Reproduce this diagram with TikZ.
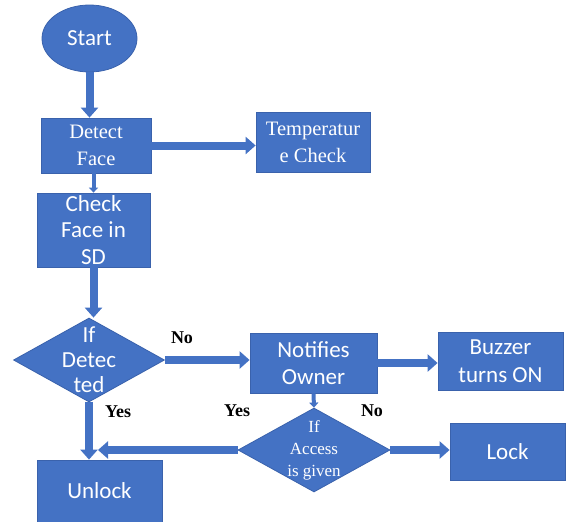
\documentclass[tikz,border=0pt]{standalone}
\usepackage{fontspec}
\setmainfont{Carlito}
\newfontfamily\cambria{Liberation Serif}
\usetikzlibrary{positioning}
\usetikzlibrary{arrows.meta}
\usetikzlibrary{shapes.geometric}
\definecolor{boxblue}{HTML}{4472C4}
\definecolor{edgeblue}{HTML}{3A62AC}

\begin{document}
\begin{tikzpicture}[x=1pt, y=-1pt,
			box/.style={draw=edgeblue, line width=0.8pt, fill=boxblue, rectangle, inner sep=0pt, text=white, align=center, font=\fontsize{23}{27.6}\selectfont},
			serifbox/.style={box, font=\cambria\fontsize{20.5}{27}\selectfont},
			oval/.style={box, ellipse, minimum width=95pt, minimum height=67pt},
			decision/.style={box, diamond, minimum width=151pt, minimum height=84pt},
			boxtext/.style={text=white, align=center, inner sep=0pt},
			lbl/.style={inner sep=0pt, font=\cambria\bfseries\fontsize{18}{20}\selectfont},
			arrow/.style={-{Triangle[width=17pt,length=10pt]}, line width=8pt, draw=boxblue},
			thinarrow/.style={-{Triangle[width=9pt,length=5pt]}, line width=4pt, draw=boxblue}
			]
			\useasboundingbox (0,0) rectangle (566,522);
			
			% Main column
			\node[oval] (start) at (89.5,38.5) {Start};
			\node[serifbox, minimum width=110pt, minimum height=55pt] (detect) at (96,145.5) {Detect\\Face};
			\node[box, minimum width=113pt, minimum height=74pt,
				label={[boxtext, font=\fontsize{23}{26.5}\selectfont]center:{Check\\Face in\\SD}}] (check) at (93.5,230) {};
			\node[decision, label={[boxtext, font=\fontsize{23}{25}\selectfont]center:{If\\Detec\\ted}}] (detected) at (89,360) {};
			\node[box, minimum width=125pt, minimum height=62pt] (unlock) at (99.5,491) {Unlock};
			
			% Right side
			\node[serifbox, minimum width=114pt, minimum height=60pt] (temp) at (313,142.5) {Temperatur\\e Check};
			\node[box, minimum width=127pt, minimum height=60pt] (notify) at (313.5,363) {Notifies\\Owner};
			\node[box, minimum width=125pt, minimum height=58pt] (buzzer) at (500.5,361) {Buzzer\\turns ON};
			\node[decision, minimum width=152pt,
				label={[boxtext, font=\cambria\fontsize{17}{22}\selectfont]center:{If\\Access\\is given}}] (access) at (314,450) {};
			\node[box, minimum width=115pt, minimum height=57pt] (lock) at (507.5,451.5) {Lock};
			
			% Labels
			\node[lbl] (no1) at (182,338) {No};
			\node[lbl] (yes1) at (118,412) {Yes};
			\node[lbl] (yes2) at (237,411) {Yes};
			\node[lbl] (no2) at (372,411) {No};
			
			% Connections
			\draw[arrow] (start.south) -- (start.south |- detect.north);
			\draw[arrow] (detect.east) -- (temp.west |- detect.east);
			\draw[thinarrow] (check.north |- detect.south) -- (check.north);
			\draw[arrow] (check.south) -- (check.south |- detected.north);
			\draw[arrow] (detected.east) -- (detected.east -| notify.west);
			\draw[arrow] (notify.east) -- (notify.east -| buzzer.west);
			\draw[thinarrow] (notify.south) -- (access.north);
			\draw[arrow] (access.east) -- (access.east -| lock.west);
			\coordinate (merge) at ([xshift=9pt]detected.south |- access.west);
			\draw[arrow] (access.west) -- (merge);
			\draw[arrow] (detected.south) -- (detected.south |- unlock.north);
		\end{tikzpicture}
\end{document}
